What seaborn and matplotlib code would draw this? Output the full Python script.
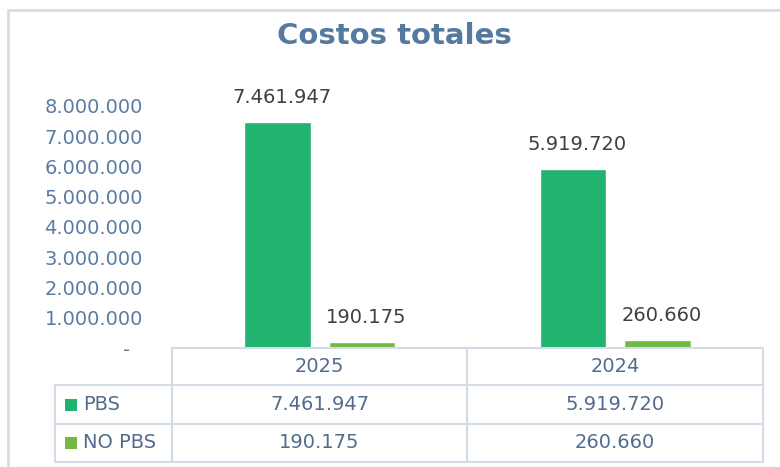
import matplotlib
matplotlib.use("Agg")
import matplotlib.pyplot as plt
import seaborn as sns
import pandas as pd
from matplotlib.patches import Rectangle
from matplotlib.lines import Line2D

# ---- data ----
years = ["2025", "2024"]
series = ["PBS", "NO PBS"]
pbs = [7461947, 5919720]
no_pbs = [190175, 260660]
yticks = [0, 1000000, 2000000, 3000000, 4000000, 5000000, 6000000, 7000000, 8000000]

colors = ["#21B36F", "#72B944"]
tick_color = "#5A7BA2"
label_color = "#404040"
table_color = "#536C8E"
line_color = "#D3DBE6"

def fmt(v):
    return "-  " if v == 0 else f"{v:,}".replace(",", ".")

df = pd.DataFrame({
    "year": years * 2,
    "serie": [series[0]] * 2 + [series[1]] * 2,
    "value": pbs + no_pbs,
})

sns.set_theme(style="white")
plt.rcParams["font.family"] = ["DejaVu Sans"]

W, H = 780, 467
fig = plt.figure(figsize=(7.8, 4.67), dpi=100)
fig.patch.set_facecolor("white")

def fx(px):
    return px / W

def fy(py):
    return 1 - py / H

# outer frame
fig.patches.append(Rectangle((fx(8), fy(470)), fx(790) - fx(8), fy(10) - fy(470),
                             transform=fig.transFigure, fill=False,
                             edgecolor="#D6DEE9", linewidth=2))

x0, x1 = 172, 763
ybase, ytop = 348, 106
ax = fig.add_axes([fx(x0), fy(ybase), fx(x1) - fx(x0), fy(ytop) - fy(ybase)])
sns.barplot(data=df, x="year", y="value", hue="serie", order=years, hue_order=series,
            palette=colors, width=0.57, gap=0.21, ax=ax, legend=False,
            saturation=1, errorbar=None)
ax.set_xlim(-0.5, 1.5)
ax.set_ylim(0, 8000000)
ax.set_yticks(yticks)
ax.set_yticklabels([fmt(v) for v in yticks], color=tick_color, fontsize=14)
ax.tick_params(axis="y", length=0, pad=21)
ax.set_xticks([])
ax.set_xlabel("")
ax.set_ylabel("")
for s in ax.spines.values():
    s.set_visible(False)
ax.set_facecolor("none")

# data labels
for cont in ax.containers:
    for bar in cont:
        h = bar.get_height()
        ax.annotate(fmt(int(round(h))), (bar.get_x() + bar.get_width() / 2, h),
                    xytext=(3, 11), textcoords="offset points", ha="center", va="bottom",
                    fontsize=14, color=label_color, clip_on=False)

# title
fig.text(fx(394), fy(36), "Costos totales", ha="center", va="center",
         fontsize=21, fontweight="bold", color="#5679A0")

# ---- data table ----
cols = [172, 467, 763]
rows = [348, 385, 424, 462]
tl = 55

def hline(y, xa, xb):
    fig.lines.append(Line2D([fx(xa), fx(xb)], [fy(y), fy(y)], transform=fig.transFigure,
                            color=line_color, linewidth=1.5))

def vline(x, ya, yb):
    fig.lines.append(Line2D([fx(x), fx(x)], [fy(ya), fy(yb)], transform=fig.transFigure,
                            color=line_color, linewidth=1.5))

hline(rows[0], cols[0], cols[2])
for y in rows[1:]:
    hline(y, tl, cols[2])
for x in cols:
    vline(x, rows[0], rows[3])
vline(tl, rows[1], rows[3])

centers = [(cols[0] + cols[1]) / 2, (cols[1] + cols[2]) / 2]
for cx, yr in zip(centers, years):
    fig.text(fx(cx), fy((rows[0] + rows[1]) / 2), yr, ha="center", va="center",
             fontsize=14, color=table_color)

for i, (name, vals) in enumerate(zip(series, [pbs, no_pbs])):
    cy = (rows[i + 1] + rows[i + 2]) / 2
    fig.patches.append(Rectangle((fx(65), fy(cy + 6)), fx(77) - fx(65), fy(cy - 6) - fy(cy + 6),
                                 transform=fig.transFigure, facecolor=colors[i], edgecolor="none"))
    fig.text(fx(83), fy(cy), name, ha="left", va="center", fontsize=14, color=table_color)
    for cx, v in zip(centers, vals):
        fig.text(fx(cx), fy(cy), fmt(v), ha="center", va="center", fontsize=14, color=table_color)

fig.savefig("out.png", dpi=100)
